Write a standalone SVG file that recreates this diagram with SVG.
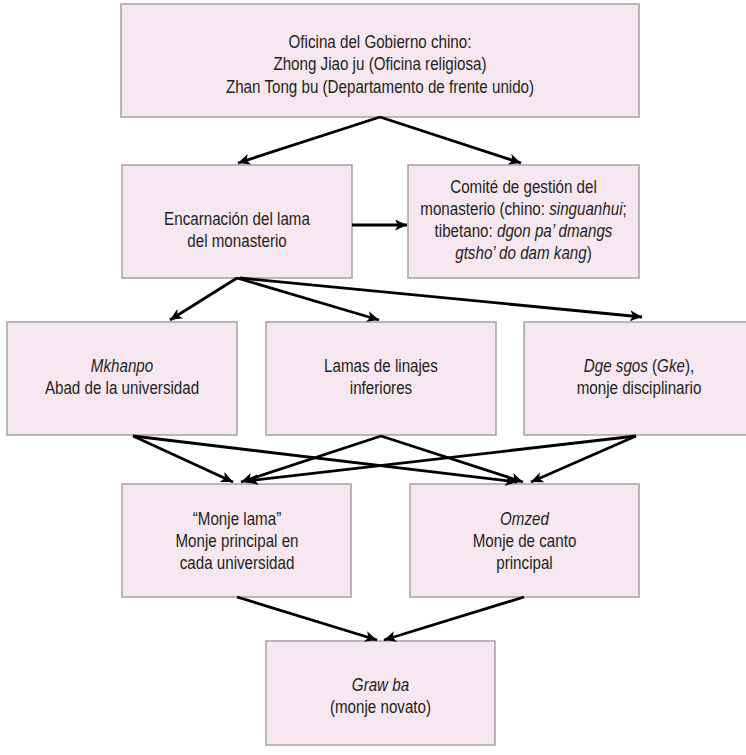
<svg xmlns="http://www.w3.org/2000/svg" width="746" height="755" viewBox="0 0 746 755">
<style>
.box{fill:#f7e7f0;stroke:#a3a3a3;stroke-width:1.5}
text{font-family:"Liberation Sans",Arial,sans-serif;font-size:18.5px;fill:#231f20;text-anchor:middle}
.i{font-style:italic}
.c line{stroke:#000;stroke-width:2.8;marker-end:url(#ah)}
</style>
<defs>
<marker id="ah" markerUnits="userSpaceOnUse" markerWidth="14" markerHeight="12" refX="12" refY="5.5" orient="auto">
<path d="M0,0 L12,5.5 L0,11 L3,5.5 z" fill="#000"/>
</marker>
</defs>
<rect width="746" height="755" fill="#fff"/>
<g id="gobierno">
<rect class="box" x="121" y="4" width="518" height="113"/>
<g transform="translate(380 0) scale(0.82 1)">
<text x="0" y="48">Oficina del Gobierno chino:</text>
<text x="0" y="70.5">Zhong Jiao ju (Oficina religiosa)</text>
<text x="0" y="93">Zhan Tong bu (Departamento de frente unido)</text>
</g>
</g>
<g id="encarnacion">
<rect class="box" x="122" y="165" width="230" height="113"/>
<g transform="translate(237 0) scale(0.82 1)">
<text x="0" y="225">Encarnación del lama</text>
<text x="0" y="247">del monasterio</text>
</g>
</g>
<g id="comite">
<rect class="box" x="408" y="165" width="231" height="113"/>
<g transform="translate(523.5 0) scale(0.82 1)">
<text x="0" y="193">Comité de gestión del</text>
<text x="0" y="215">monasterio (chino: <tspan class="i">singuanhui</tspan>;</text>
<text x="0" y="237">tibetano: <tspan class="i">dgon pa’ dmangs</tspan></text>
<text x="0" y="259"><tspan class="i">gtsho’ do dam kang</tspan>)</text>
</g>
</g>
<g id="mkhanpo">
<rect class="box" x="7" y="322" width="230" height="113"/>
<g transform="translate(122 0) scale(0.82 1)">
<text x="0" y="372" class="i">Mkhanpo</text>
<text x="0" y="394">Abad de la universidad</text>
</g>
</g>
<g id="lamas">
<rect class="box" x="266" y="322" width="230" height="113"/>
<g transform="translate(381 0) scale(0.82 1)">
<text x="0" y="372">Lamas de linajes</text>
<text x="0" y="394">inferiores</text>
</g>
</g>
<g id="dgesgos">
<rect class="box" x="524" y="322" width="232" height="113"/>
<g transform="translate(639 0) scale(0.82 1)">
<text x="0" y="372"><tspan class="i">Dge sgos</tspan> (<tspan class="i">Gke</tspan>),</text>
<text x="0" y="394">monje disciplinario</text>
</g>
</g>
<g id="monjelama">
<rect class="box" x="122" y="484" width="229" height="113"/>
<g transform="translate(237 0) scale(0.82 1)">
<text x="0" y="525">“Monje lama”</text>
<text x="0" y="547">Monje principal en</text>
<text x="0" y="569">cada universidad</text>
</g>
</g>
<g id="omzed">
<rect class="box" x="410" y="484" width="229" height="113"/>
<g transform="translate(524.5 0) scale(0.82 1)">
<text x="0" y="525" class="i">Omzed</text>
<text x="0" y="547">Monje de canto</text>
<text x="0" y="569">principal</text>
</g>
</g>
<g id="grawba">
<rect class="box" x="266" y="641" width="229" height="104"/>
<g transform="translate(380.5 0) scale(0.82 1)">
<text x="0" y="691" class="i">Graw ba</text>
<text x="0" y="713">(monje novato)</text>
</g>
</g>
<g id="connectors" class="c">
<line x1="380" y1="117" x2="238" y2="163"/>
<line x1="380" y1="117" x2="521" y2="163"/>
<line x1="352" y1="225" x2="407" y2="225"/>
<line x1="237" y1="278" x2="170" y2="320"/>
<line x1="237" y1="278" x2="379" y2="320"/>
<line x1="240" y1="278" x2="642" y2="317"/>
<line x1="133" y1="436" x2="233" y2="482"/>
<line x1="133" y1="436" x2="517" y2="482"/>
<line x1="381" y1="436" x2="241" y2="482"/>
<line x1="381" y1="436" x2="523" y2="482"/>
<line x1="636" y1="436" x2="246" y2="481"/>
<line x1="636" y1="436" x2="531" y2="482"/>
<line x1="237" y1="597" x2="377" y2="640"/>
<line x1="524" y1="597" x2="384" y2="640"/>
</g>
</svg>
